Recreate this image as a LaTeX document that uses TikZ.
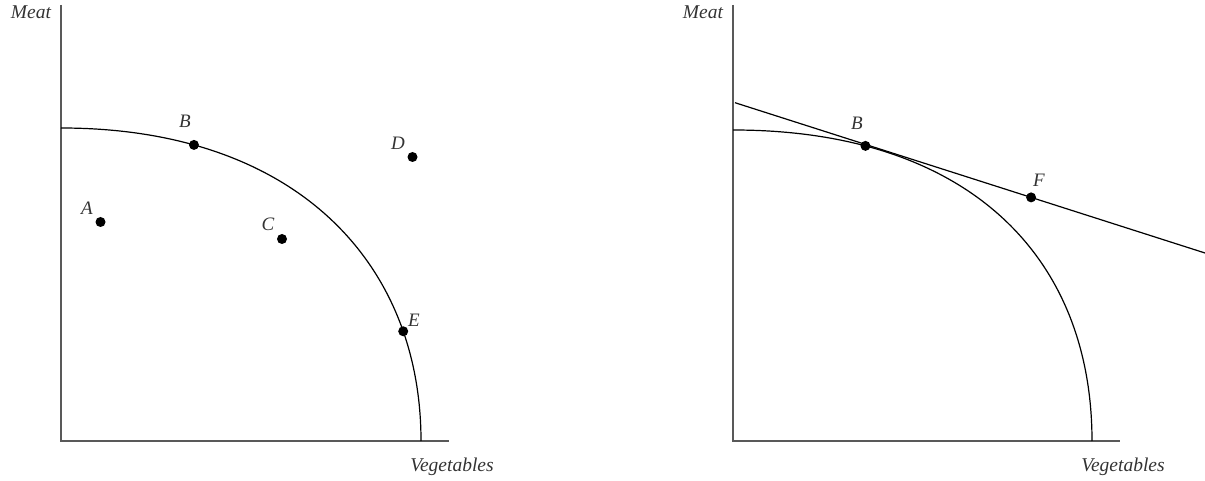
\documentclass[tikz,border=0pt]{standalone}
\usepackage{fontspec}
\setmainfont{Liberation Serif}
\begin{document}
\begin{tikzpicture}[x=1pt,y=-1pt,
  axis/.style={line width=1.6pt, draw=black!65},
  ppf/.style={line width=1.2pt, draw=black},
  dot/.style={circle, fill=black, inner sep=0pt, minimum size=10pt},
  lbl/.style={font=\fontsize{19}{22}\selectfont\itshape, inner sep=0pt, text=black!80},
  axlbl/.style={font=\fontsize{19.5}{22}\selectfont\itshape, inner sep=0pt, text=black!80}]
\useasboundingbox (0,0) rectangle (1205,481);

% ---------- left panel ----------
\coordinate (yt1) at (61,5);
\coordinate (o1) at (61,441);
\coordinate (xe1) at (449,441);
\draw[axis] (yt1) -- (o1) -- (xe1);
\node[axlbl] (meat1) at (31,12) {Meat};
\node[axlbl] (veg1) at (452,467) {Vegetables};

\coordinate (s1) at (61,128);
\coordinate (e1) at (421,441);
\draw[ppf] (s1) .. controls (295,128) and (421,262) .. (e1)
  node[dot, pos=0.21] (B1) {}
  node[dot, pos=0.782] (E1) {};

\node[dot] (A1) at (100.5,222) {};
\node[dot] (C1) at (282,239) {};
\node[dot] (D1) at (412.5,157) {};

\node[lbl] (lA) at (87,208) {A};
\node[lbl] (lB) at (185,121) {B};
\node[lbl] (lC) at (268,224) {C};
\node[lbl] (lD) at (398,143) {D};
\node[lbl] (lE) at (414,320) {E};

% ---------- right panel ----------
\coordinate (yt2) at (733,5);
\coordinate (o2) at (733,441);
\coordinate (xe2) at (1120,441);
\draw[axis] (yt2) -- (o2) -- (xe2);
\node[axlbl] (meat2) at (703,12) {Meat};
\node[axlbl] (veg2) at (1123,467) {Vegetables};

\coordinate (s2) at (733,130);
\coordinate (e2) at (1092,441);
\draw[ppf] (s2) .. controls (966,130) and (1092,254.4) .. (e2)
  node[dot, pos=0.21] (B2) {};

\coordinate (L1) at (735,102.7);
\coordinate (L2) at (1205,253);
\draw[ppf] (L1) -- (L2) node[dot, pos=0.63] (F2) {};

\node[lbl] (rB) at (857,123) {B};
\node[lbl] (rF) at (1039,180) {F};
\end{tikzpicture}
\end{document}
